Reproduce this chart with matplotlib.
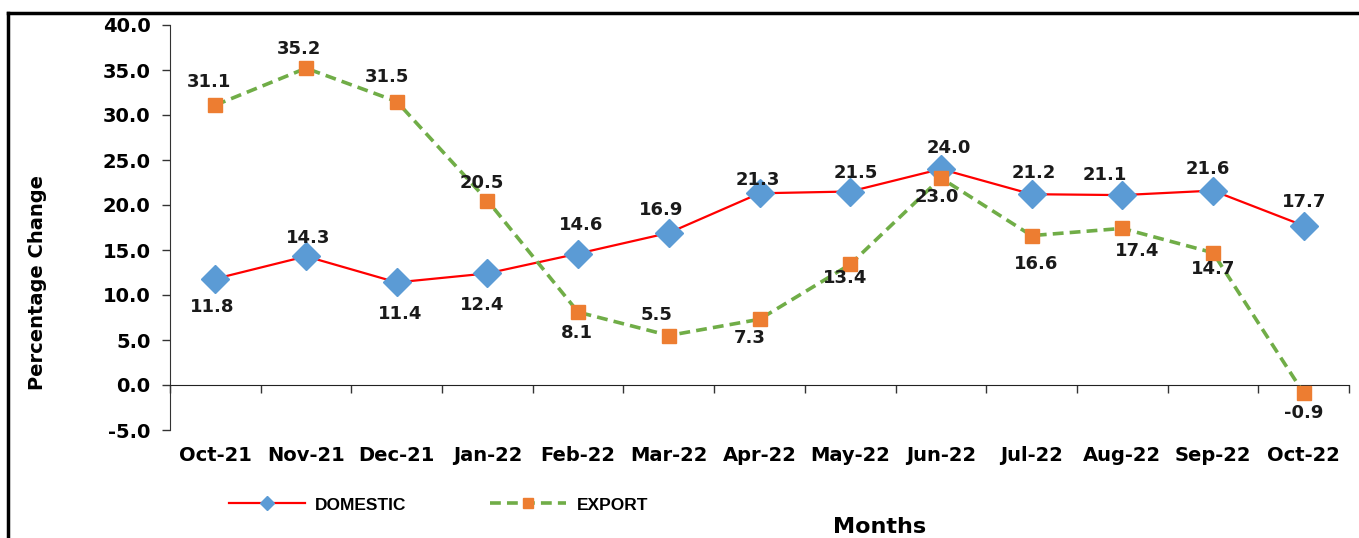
import matplotlib
matplotlib.use("Agg")
import matplotlib.pyplot as plt
from matplotlib.lines import Line2D

months = ["Oct-21", "Nov-21", "Dec-21", "Jan-22", "Feb-22", "Mar-22", "Apr-22",
          "May-22", "Jun-22", "Jul-22", "Aug-22", "Sep-22", "Oct-22"]
domestic = [11.8, 14.3, 11.4, 12.4, 14.6, 16.9, 21.3, 21.5, 24.0, 21.2, 21.1, 21.6, 17.7]
export = [31.1, 35.2, 31.5, 20.5, 8.1, 5.5, 7.3, 13.4, 23.0, 16.6, 17.4, 14.7, -0.9]

# label offsets from each point, in pixels (dx, dy; +dy = above)
domestic_off = [(-3, -28), (2, 18), (3, -32), (-5, -32), (3, 29), (-8, 23), (-2, 13),
                (6, 19), (8, 21), (2, 21), (-17, 20), (-5, 22), (0, 24)]
export_off = [(-6, 23), (-7, 19), (-10, 25), (-6, 17), (-1, -21), (-12, 20), (-10, -19),
              (-5, -14), (-4, -19), (5, -28), (15, -23), (0, -16), (0, -20)]

plt.rcParams['font.family'] = ['DejaVu Sans']
plt.rcParams['font.weight'] = 'bold'

W, H = 1359, 538
fig = plt.figure(figsize=(W / 100, H / 100), dpi=100)
ax = fig.add_axes([170 / W, 1 - 430 / H, (1349 - 170) / W, (430 - 25) / H])

dash = (0, (3.0, 1.7))
x = list(range(len(months)))
ax.plot(x, domestic, color='#FF0000', lw=1.6, marker='D', markersize=14,
        markerfacecolor='#5B9BD5', markeredgecolor='#5B9BD5', zorder=3)
ax.plot(x, export, color='#70AD47', lw=2.6, ls=dash, marker='s', markersize=9.5,
        markerfacecolor='#ED7D31', markeredgecolor='#ED7D31', zorder=3)

px2pt = 72 / 100
for xi, v, (dx, dy) in zip(x, domestic, domestic_off):
    ax.annotate(f"{v:.1f}", (xi, v), xytext=(dx * px2pt, dy * px2pt), textcoords='offset points',
                ha='center', va='center', fontsize=13, fontweight='bold', color='#1a1a1a')
for xi, v, (dx, dy) in zip(x, export, export_off):
    ax.annotate(f"{v:.1f}", (xi, v), xytext=(dx * px2pt, dy * px2pt), textcoords='offset points',
                ha='center', va='center', fontsize=13, fontweight='bold', color='#1a1a1a')

ax.set_xlim(-0.5, len(months) - 0.5)
ax.set_ylim(-5, 40)
yt = list(range(-5, 41, 5))
ax.set_yticks(yt)
ax.set_yticklabels([f"{t:.1f}" for t in yt])
ax.set_xticks(x)
ax.set_xticklabels(months)
ax.set_xticks([i - 0.5 for i in range(len(months) + 1)], minor=True)
ax.tick_params(axis='x', which='major', length=0, pad=44, labelsize=14)
ax.tick_params(axis='x', which='minor', length=6, width=1, direction='out', color='#333333')
ax.tick_params(axis='y', length=6, width=1, pad=8, color='#333333', labelsize=14)

for s in ['top', 'right']:
    ax.spines[s].set_visible(False)
ax.spines['bottom'].set_position(('data', 0))
ax.spines['bottom'].set_color('#222222')
ax.spines['left'].set_color('#333333')

fig.text(38 / W, 1 - 283 / H, "Percentage Change", rotation=90, ha='center', va='center',
         fontsize=14, fontweight='bold')
fig.text(880 / W, 1 - 527 / H, "Months", ha='center', va='center', fontsize=16, fontweight='bold')

h_dom = Line2D([], [], color='#FF0000', lw=1.6, marker='D', markersize=7,
               markerfacecolor='#5B9BD5', markeredgecolor='#5B9BD5')
h_exp = Line2D([], [], color='#70AD47', lw=2.6, ls=dash, marker='s', markersize=7,
               markerfacecolor='#ED7D31', markeredgecolor='#ED7D31')
fig.legend([h_dom, h_exp], ["DOMESTIC", "EXPORT"], loc='center left',
           bbox_to_anchor=(215 / W, 1 - 505 / H), ncol=2, frameon=False,
           prop={'family': 'Liberation Sans', 'size': 12.5, 'weight': 'bold'},
           handlelength=4.4, columnspacing=4.8, handletextpad=0.58, numpoints=1,
           borderpad=0.3)

# figure border (top and left)
fig.add_artist(Line2D([8 / W, 8 / W], [0, 1 - 13 / H], transform=fig.transFigure,
                      color='black', lw=2.5))
fig.add_artist(Line2D([8 / W, 1], [1 - 13 / H, 1 - 13 / H], transform=fig.transFigure,
                      color='black', lw=2.5))

fig.savefig("out.png", dpi=100)
